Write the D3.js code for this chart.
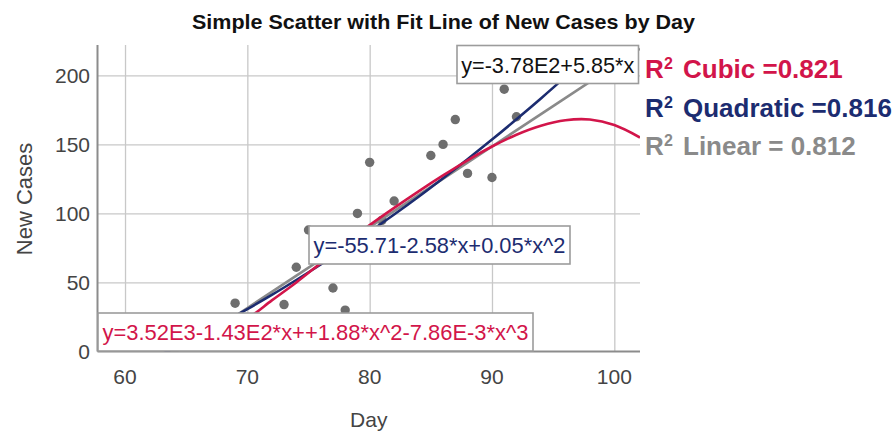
<!DOCTYPE html>
<html>
<head>
<meta charset="utf-8">
<script src="https://cdn.jsdelivr.net/npm/d3@7"></script>
<style>
    body { margin: 0; background: #fff; }
    svg { display: block; font-family: "Liberation Sans", Arial, sans-serif; }
</style>
</head>
<body>
<div id="chart"></div>
<script>
// observed points
const days = [64, 69, 73, 74, 75, 77, 78, 79, 80, 81, 82, 85, 86, 87, 88, 90, 91, 92, 99];
const newCases = [0, 35, 34, 61, 88, 46, 30, 100, 137, 95, 109, 142, 150, 168, 129, 126, 190, 170, 218];

// fit lines
const linearDays = [57.75, 70, 80, 90, 102.1];
const linearFit = [-40.2, 31.5, 90, 148.5, 219.3];
const quadDays = [62, 64, 66, 68, 70, 72, 74, 76, 78, 80, 82, 84, 86, 88, 90, 92, 94, 96, 98, 100, 102];
const quadFit = [-6.2, 2.4, 11.4, 20.9, 30.7, 41.0, 51.8, 63.0, 74.6, 86.7, 99.2, 112.1, 125.5, 139.3, 153.5, 168.2, 183.3, 198.9, 214.9, 231.3, 248.1];
const cubicDays = [58, 60, 62, 64, 66, 68, 70, 72, 74, 76, 78, 80, 82, 84, 86, 88, 90, 92, 94, 96, 98, 100, 102.1];
const cubicFit = [22, 16, 12, 10, 12, 17, 24, 37, 50, 64, 78, 91.5, 104, 116, 127.5, 138.5, 148.5, 157, 163.5, 167.5, 168, 164, 155];

const xTicks = [60, 70, 80, 90, 100];
const yTicks = [0, 50, 100, 150, 200];

const fitLabels = ["y=3.52E3-1.43E2*x++1.88*x^2-7.86E-3*x^3", "y=-55.71-2.58*x+0.05*x^2", "y=-3.78E2+5.85*x"];
const legendNames = ["Cubic =0.821", "Quadratic =0.816", "Linear = 0.812"];

const RED = "#d2154a", NAVY = "#1c2c70", GREY = "#8a8a8a";

const width = 896, height = 433;
const plotL = 97.5, plotR = 640, plotT = 45, plotB = 351.5;

const svg = d3.select("#chart").append("svg")
    .attr("width", width)
    .attr("height", height);

const x = d3.scaleLinear().domain([57.75, 102.1]).range([plotL, plotR]);
const y = d3.scaleLinear().domain([0, 222]).range([plotB, plotT]);

svg.append("defs").append("clipPath")
    .attr("id", "plot")
    .append("rect")
    .attr("x", plotL).attr("y", plotT)
    .attr("width", plotR - plotL).attr("height", plotB - plotT);

// grid
svg.append("g")
    .attr("transform", `translate(0,${plotB})`)
    .call(d3.axisBottom(x).tickValues(xTicks).tickSize(-(plotB - plotT)).tickFormat(""))
    .call(g => g.select(".domain").remove())
    .call(g => g.selectAll("line").attr("stroke", "#c8c8c8").attr("stroke-width", 1.3));
svg.append("g")
    .attr("transform", `translate(${plotL},0)`)
    .call(d3.axisLeft(y).tickValues(yTicks.slice(1)).tickSize(-(plotR - plotL)).tickFormat(""))
    .call(g => g.select(".domain").remove())
    .call(g => g.selectAll("line").attr("stroke", "#c8c8c8").attr("stroke-width", 1.3));

// axis lines
svg.append("line")
    .attr("x1", plotL).attr("x2", plotL).attr("y1", plotT).attr("y2", plotB)
    .attr("stroke", "#8c8c8c").attr("stroke-width", 2);
svg.append("line")
    .attr("x1", plotL).attr("x2", plotR).attr("y1", plotB).attr("y2", plotB)
    .attr("stroke", "#8c8c8c").attr("stroke-width", 2);

// tick labels
svg.append("g").selectAll("text")
    .data(yTicks)
    .join("text")
    .attr("x", 90)
    .attr("y", d => y(d))
    .attr("dy", "0.36em")
    .attr("text-anchor", "end")
    .attr("font-size", 21)
    .attr("fill", "#444")
    .text(d => d);
svg.append("g").selectAll("text")
    .data(xTicks)
    .join("text")
    .attr("x", d => x(d))
    .attr("y", 384)
    .attr("text-anchor", "middle")
    .attr("font-size", 21)
    .attr("fill", "#444")
    .text(d => d);

// axis titles
svg.append("text")
    .attr("x", (plotL + plotR) / 2)
    .attr("y", 427)
    .attr("text-anchor", "middle")
    .attr("font-size", 21)
    .attr("fill", "#444")
    .text("Day");
svg.append("text")
    .attr("transform", "translate(32,199) rotate(-90)")
    .attr("text-anchor", "middle")
    .attr("font-size", 22)
    .attr("fill", "#444")
    .text("New Cases");

svg.append("text")
    .attr("x", 443.5)
    .attr("y", 28.5)
    .attr("text-anchor", "middle")
    .attr("font-size", 21)
    .attr("font-weight", "bold")
    .attr("textLength", 503)
    .attr("lengthAdjust", "spacingAndGlyphs")
    .attr("fill", "#111")
    .text("Simple Scatter with Fit Line of New Cases by Day");

// points
const plot = svg.append("g").attr("clip-path", "url(#plot)");
plot.selectAll("circle")
    .data(days.map((d, i) => [d, newCases[i]]))
    .join("circle")
    .attr("cx", d => x(d[0]))
    .attr("cy", d => y(d[1]))
    .attr("r", 4.7)
    .attr("fill", "#6e6e6e");

// fit lines
const line = d3.line()
    .x(d => x(d[0]))
    .y(d => y(d[1]))
    .curve(d3.curveCatmullRom);

const fits = [
    [linearDays, linearFit, GREY],
    [quadDays, quadFit, NAVY],
    [cubicDays, cubicFit, RED]
];
fits.forEach(([xs, ys, color]) => {
    plot.append("path")
        .datum(xs.map((d, i) => [d, ys[i]]))
        .attr("d", line)
        .attr("fill", "none")
        .attr("stroke", color)
        .attr("stroke-width", 2.6);
});

// equation boxes
const boxes = [
    {x0: 98, x1: 533, y0: 313, y1: 351, base: 340, len: 426, color: RED},
    {x0: 309, x1: 570, y0: 226, y1: 264, base: 253, len: 252, color: NAVY},
    {x0: 457, x1: 638.5, y0: 45.5, y1: 83.5, base: 72.5, len: 173, color: "#111"}
];
boxes.forEach((b, i) => {
    svg.append("rect")
        .attr("x", b.x0).attr("y", b.y0)
        .attr("width", b.x1 - b.x0).attr("height", b.y1 - b.y0)
        .attr("fill", "#fff")
        .attr("stroke", "#9c9c9c")
        .attr("stroke-width", 1.6);
    svg.append("text")
        .attr("x", (b.x0 + b.x1) / 2)
        .attr("y", b.base)
        .attr("text-anchor", "middle")
        .attr("font-size", 22)
        .attr("textLength", b.len)
        .attr("lengthAdjust", "spacingAndGlyphs")
        .attr("fill", b.color)
        .text(fitLabels[i]);
});

// legend
const legendColors = [RED, NAVY, GREY];
const legendBase = [78, 117, 155];
legendNames.forEach((name, i) => {
    const t = svg.append("text")
        .attr("y", legendBase[i])
        .attr("font-size", 26)
        .attr("font-weight", "bold")
        .attr("fill", legendColors[i]);
    t.append("tspan").attr("x", 645).text("R");
    t.append("tspan").attr("x", 664).attr("dy", -9).attr("font-size", 16).text("2");
    t.append("tspan").attr("x", 683).attr("dy", 9).text(name);
});
</script>
</body>
</html>
